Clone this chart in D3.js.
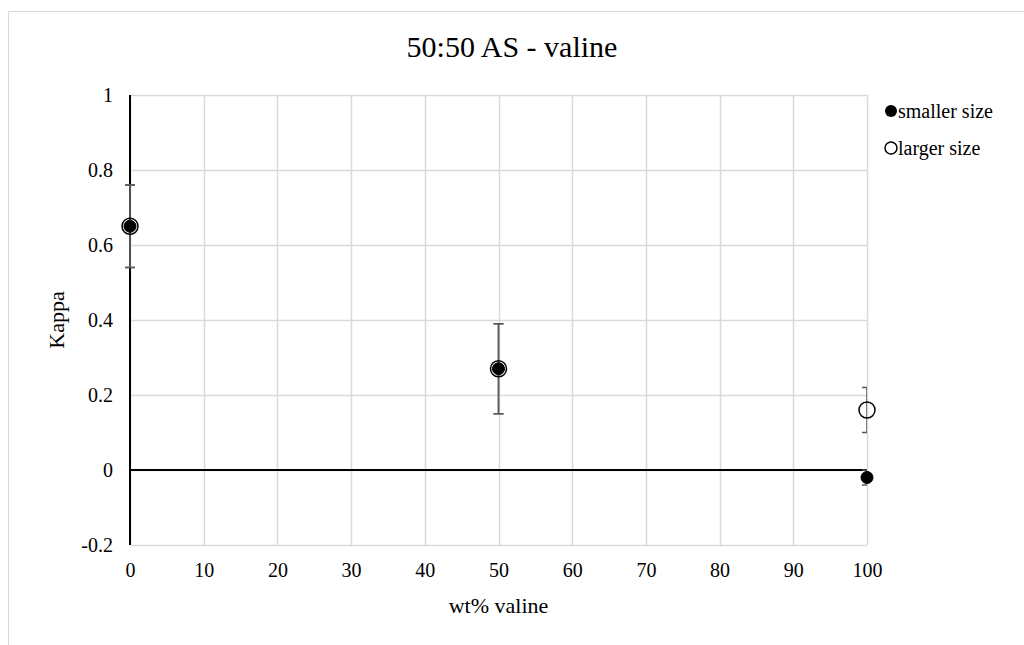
<!DOCTYPE html>
<html>
<head>
<meta charset="utf-8">
<script src="https://cdn.jsdelivr.net/npm/d3@7"></script>
<style>
body{margin:0;background:#fff;}
svg{display:block;font-family:"Liberation Serif","Times New Roman",serif;}
</style>
</head>
<body>
<svg id="chart" width="1024" height="645"></svg>
<script>
const title = "50:50 AS - valine";
const xLabel = "wt% valine";
const yLabel = "Kappa";
const xTicks = [0,10,20,30,40,50,60,70,80,90,100];
const yTicks = [-0.2,0,0.2,0.4,0.6,0.8,1];
const seriesNames = ["smaller size","larger size"];
const smallerX = [0,50,100];
const smallerY = [0.65,0.27,-0.02];
const smallerErr = [0.11,0.12,0.02];
const largerX = [0,50,100];
const largerY = [0.65,0.27,0.16];
const largerErr = [0.11,0.12,0.06];

const svg = d3.select("#chart");
const W=1024,H=645;
const m={left:130,right:867,top:95,bottom:545};
const x=d3.scaleLinear().domain([0,100]).range([m.left,m.right]);
const y=d3.scaleLinear().domain([-0.2,1]).range([m.bottom,m.top]);
const FF="Liberation Serif, serif";

svg.append("rect").attr("x",8.5).attr("y",11.5).attr("width",W).attr("height",H)
  .attr("fill","#fff").attr("stroke","#d9d9d9").attr("stroke-width",1);

svg.append("text").attr("x",512).attr("y",57).attr("text-anchor","middle")
  .attr("font-size",30).attr("fill","#000").text(title);

// gridlines
const g=svg.append("g");
g.selectAll(".vg").data(xTicks).join("line")
  .attr("x1",d=>Math.round(x(d))+0.5).attr("x2",d=>Math.round(x(d))+0.5)
  .attr("y1",m.top).attr("y2",m.bottom).attr("stroke","#d9d9d9").attr("stroke-width",1.5);
g.selectAll(".hg").data(yTicks).join("line")
  .attr("x1",m.left).attr("x2",m.right)
  .attr("y1",d=>Math.round(y(d))+0.5).attr("y2",d=>Math.round(y(d))+0.5)
  .attr("stroke","#d9d9d9").attr("stroke-width",1.5);

// axes
const xAxis=d3.axisBottom(x).tickValues(xTicks).tickSize(0).tickPadding(0).tickFormat(d3.format("d"));
const xa=svg.append("g").attr("transform",`translate(0,${m.bottom})`).call(xAxis)
  .attr("font-family",FF).attr("font-size",20);
xa.select(".domain").remove();
xa.selectAll("text").attr("fill","#000").attr("dy",0).attr("y",32);

const yAxis=d3.axisLeft(y).tickValues(yTicks).tickSize(0).tickPadding(0).tickFormat(d=>d===0?"0":String(+d.toFixed(1)));
const ya=svg.append("g").attr("transform",`translate(${m.left},0)`).call(yAxis)
  .attr("font-family",FF).attr("font-size",20);
ya.select(".domain").remove();
ya.selectAll("text").attr("fill","#000").attr("x",-17).attr("dy","0.32em");

// axis lines
svg.append("line").attr("x1",x(0)).attr("x2",x(0)).attr("y1",m.top).attr("y2",m.bottom).attr("stroke","#000").attr("stroke-width",2);
svg.append("line").attr("x1",m.left).attr("x2",m.right).attr("y1",y(0)).attr("y2",y(0)).attr("stroke","#000").attr("stroke-width",2);

svg.append("text").attr("x",(m.left+m.right)/2).attr("y",613).attr("text-anchor","middle").attr("font-size",22).text(xLabel);
svg.append("text").attr("transform",`translate(64,${(m.top+m.bottom)/2}) rotate(-90)`).attr("text-anchor","middle").attr("font-size",22).text(yLabel);

// clip
svg.append("clipPath").attr("id","pc").append("rect").attr("x",m.left-20).attr("y",m.top).attr("width",m.right-m.left+20).attr("height",m.bottom-m.top);

function errBars(xs,ys,es){
  const eg=svg.append("g").attr("clip-path","url(#pc)");
  const data=xs.map((v,i)=>({x:v,y:ys[i],e:es[i]}));
  eg.selectAll(".ev").data(data).join("line")
    .attr("x1",d=>x(d.x)).attr("x2",d=>x(d.x)).attr("y1",d=>y(d.y+d.e)).attr("y2",d=>y(d.y-d.e))
    .attr("stroke","#595959").attr("stroke-width",1.5);
  ["p","m"].forEach(s=>{
    eg.selectAll(".ec"+s).data(data).join("line")
      .attr("x1",d=>x(d.x)-5).attr("x2",d=>x(d.x)+5)
      .attr("y1",d=>y(s==="p"?d.y+d.e:d.y-d.e)).attr("y2",d=>y(s==="p"?d.y+d.e:d.y-d.e))
      .attr("stroke","#595959").attr("stroke-width",1.5);
  });
}
errBars(smallerX,smallerY,smallerErr);
errBars(largerX,largerY,largerErr);

svg.append("g").selectAll("circle").data(smallerX.map((v,i)=>[v,smallerY[i]])).join("circle")
  .attr("cx",d=>x(d[0])).attr("cy",d=>y(d[1])).attr("r",6).attr("fill","#000").attr("stroke","#000").attr("stroke-width",1);
svg.append("g").selectAll("circle").data(largerX.map((v,i)=>[v,largerY[i]])).join("circle")
  .attr("cx",d=>x(d[0])).attr("cy",d=>y(d[1])).attr("r",8).attr("fill","none").attr("stroke","#000").attr("stroke-width",1.5);

// legend
const lg=svg.append("g");
lg.append("circle").attr("cx",891).attr("cy",111).attr("r",6).attr("fill","#000");
lg.append("text").attr("x",898).attr("y",118).attr("font-size",20).text(seriesNames[0]);
lg.append("circle").attr("cx",891).attr("cy",148).attr("r",6).attr("fill","none").attr("stroke","#000").attr("stroke-width",1.5);
lg.append("text").attr("x",898).attr("y",155).attr("font-size",20).text(seriesNames[1]);
</script>
</body>
</html>
